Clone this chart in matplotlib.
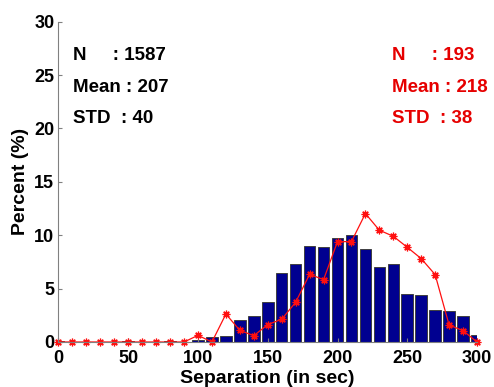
import matplotlib
matplotlib.use('Agg')
import matplotlib.pyplot as plt

plt.rcParams['font.family'] = ['Liberation Sans', 'DejaVu Sans']
plt.rcParams['font.weight'] = 'bold'

# separation bins (sec)
bins = list(range(0, 310, 10))

# all events, percent per bin
pct_all = [0.06, 0, 0, 0, 0, 0.06, 0, 0, 0.06, 0, 0.19, 0.47, 0.56, 2.03, 2.44,
           3.72, 6.5, 7.31, 8.97, 8.9, 9.72, 10.03, 8.75, 7.03, 7.31, 4.53,
           4.41, 3.03, 2.87, 2.44, 0.66]

# subset, percent per bin
pct_sub = [0, 0, 0, 0, 0, 0, 0, 0, 0, 0, 0.62, 0, 2.62, 1.09, 0.59,
           1.63, 2.13, 3.72, 6.34, 5.84, 9.4, 9.4, 12.03, 10.47, 9.9, 8.87,
           7.81, 6.31, 1.59, 1.06, 0]

stats_all = ['N     : 1587', 'Mean : 207', 'STD  : 40']
stats_sub = ['N     : 193', 'Mean : 218', 'STD  : 38']

fig = plt.figure(figsize=(4.94, 3.87), dpi=100)
ax = fig.add_axes([0.1184, 0.1163, 0.8472, 0.8277])

ax.bar(bins, pct_all, width=8.3, color='#000090', edgecolor='#404040', linewidth=0.7)
ax.plot(bins, pct_sub, '-', color='#ff1010', linewidth=0.9, marker=(8, 2, 0),
        markersize=5.5, markeredgewidth=0.9, clip_on=False)

ax.set_xlim(0, 300)
ax.set_ylim(0, 30)
ax.set_xticks(range(0, 301, 50))
ax.set_yticks(range(0, 31, 5))
ax.tick_params(direction='in', length=3, labelsize=13, colors='#808080',
               labelcolor='black')
ax.tick_params(axis='x', pad=6)
ax.tick_params(axis='y', pad=3)
for s in ['top', 'right']:
    ax.spines[s].set_visible(False)
for s in ['left', 'bottom']:
    ax.spines[s].set_color('#808080')

ax.set_xlabel('Separation (in sec)', fontsize=14, fontweight='bold', labelpad=2)
ax.set_ylabel('Percent (%)', fontsize=14, fontweight='bold', labelpad=4)

for i, t in enumerate(stats_all):
    fig.text(73 / 494, 1 - (60 + 31.5 * i) / 387, t, fontsize=13.5,
             fontweight='bold', color='black')
for i, t in enumerate(stats_sub):
    fig.text(392 / 494, 1 - (60 + 31.5 * i) / 387, t, fontsize=13.5,
             fontweight='bold', color='#e60000')

fig.savefig('out.png', dpi=100)
